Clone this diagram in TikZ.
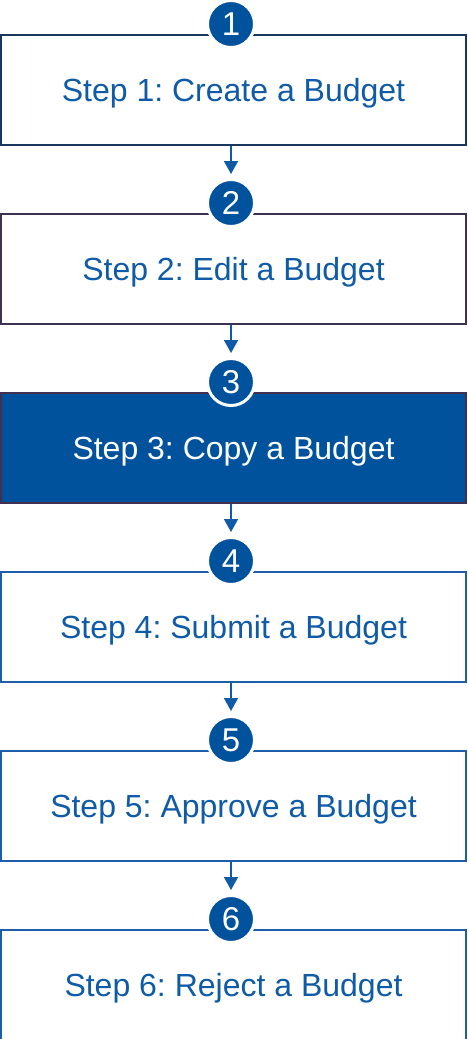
\documentclass[tikz,border=0pt]{standalone}
\usepackage{fontspec}
\setmainfont{Liberation Sans}
\usetikzlibrary{arrows.meta}
\frenchspacing
\definecolor{stepblue}{HTML}{00529C}
\definecolor{textblue}{HTML}{0F5BA8}
\definecolor{navyline}{HTML}{17375E}
\definecolor{plumline}{HTML}{403152}
\definecolor{blueline}{HTML}{1C5EA8}
\tikzset{
  stepbox/.style={draw, line width=2pt, minimum width=465pt, minimum height=110pt,
    inner sep=0pt, text height=23pt, text depth=0pt, fill=white, text=textblue,
    font=\fontsize{32}{38}\selectfont},
  badge/.style={circle, fill=stepblue, draw=white, line width=3pt, minimum size=47pt,
    inner sep=0pt, text height=23pt, text depth=0pt, text=white,
    font=\fontsize{33}{38}\selectfont},
  flow/.style={draw=textblue, line width=1.6pt, -{Triangle[width=14pt,length=13pt]}, shorten >=4pt}
}
\begin{document}
\begin{tikzpicture}[x=1pt,y=-1pt]
  \useasboundingbox (0,0) rectangle (467,1039);
  \clip (0,0) rectangle (467,1039);
  % step boxes, 179pt apart
  \node[stepbox, draw=navyline] (box1) at (233.5,90) {Step 1: Create a Budget};
  \node[stepbox, draw=plumline] (box2) at (233.5,269) {Step 2: Edit a Budget};
  \node[stepbox, draw=plumline, fill=stepblue, text=white] (box3) at (233.5,448) {Step 3: Copy a Budget};
  \node[stepbox, draw=blueline] (box4) at (233.5,627) {Step 4: Submit a Budget};
  \node[stepbox, draw=blueline] (box5) at (233.5,806) {Step 5: Approve a Budget};
  \node[stepbox, draw=blueline] (box6) at (233.5,985) {Step 6: Reject a Budget};
  % numbered badges on the top edges
  \node[badge] (c1) at (231,24) {1};
  \node[badge] (c2) at (231,203) {2};
  \node[badge] (c3) at (231,382) {3};
  \node[badge] (c4) at (231,561) {4};
  \node[badge] (c5) at (231,740) {5};
  \node[badge] (c6) at (231,919) {6};
  % connectors
  \draw[flow] (box1.south -| c2) -- (c2.north);
  \draw[flow] (box2.south -| c3) -- (c3.north);
  \draw[flow] (box3.south -| c4) -- (c4.north);
  \draw[flow] (box4.south -| c5) -- (c5.north);
  \draw[flow] (box5.south -| c6) -- (c6.north);
\end{tikzpicture}
\end{document}
